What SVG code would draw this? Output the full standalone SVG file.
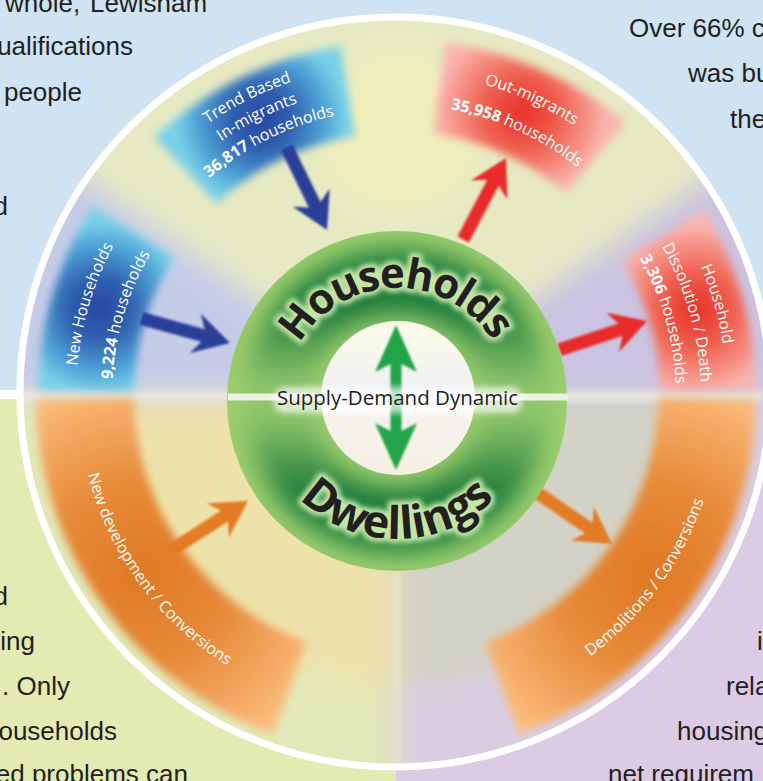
<svg xmlns="http://www.w3.org/2000/svg" width="763" height="781" viewBox="0 0 763 781">
<defs>
<style>
.bt{font-family:"Liberation Sans",Arial,sans-serif;font-size:26px;fill:#231f20}
.lb{font-family:"Open Sans","Noto Sans",sans-serif;font-size:16px;fill:#ffffff}
.b{font-weight:700}
.big{font-family:"Open Sans","Noto Sans",sans-serif;font-weight:700;fill:#231f20}
.glow{fill:#bfe2a0;stroke:#c4e5a6;stroke-width:8;stroke-linejoin:round}
.sdd{font-family:"Open Sans","Noto Sans",sans-serif;font-size:20.5px;fill:#231f20}
</style>
<filter id="fBg" filterUnits="userSpaceOnUse" x="-50" y="-50" width="863" height="881"><feGaussianBlur stdDeviation="14"/></filter>
<filter id="fPanel" x="-20%" y="-20%" width="140%" height="140%"><feGaussianBlur stdDeviation="4.5"/></filter>
<filter id="fSoft" x="-20%" y="-50%" width="140%" height="200%"><feGaussianBlur stdDeviation="3"/></filter>
<filter id="fArrow" x="-10%" y="-20%" width="120%" height="140%"><feGaussianBlur stdDeviation="1"/></filter>
<filter id="fGreen" filterUnits="userSpaceOnUse" x="200" y="200" width="400" height="400"><feGaussianBlur stdDeviation="12"/></filter>
<filter id="fGlow" x="-10%" y="-10%" width="120%" height="120%"><feGaussianBlur stdDeviation="2.5"/></filter>
<clipPath id="clipDisc"><circle cx="395" cy="392" r="373"/></clipPath>
<clipPath id="clipGreen"><circle cx="397" cy="401" r="170"/></clipPath>
<radialGradient id="gp1" gradientUnits="userSpaceOnUse" cx="261" cy="119" r="85"><stop offset="0" stop-color="#2a47a0"/><stop offset="0.35" stop-color="#2f5eae"/><stop offset="0.75" stop-color="#4fa3d6"/><stop offset="1" stop-color="#78d0e8"/></radialGradient>
<radialGradient id="gp3" gradientUnits="userSpaceOnUse" cx="99" cy="308" r="85"><stop offset="0" stop-color="#2a47a0"/><stop offset="0.35" stop-color="#2f5eae"/><stop offset="0.75" stop-color="#4fa3d6"/><stop offset="1" stop-color="#78d0e8"/></radialGradient>
<radialGradient id="gp2" gradientUnits="userSpaceOnUse" cx="522" cy="112" r="85"><stop offset="0" stop-color="#e8302a"/><stop offset="0.4" stop-color="#ee5a49"/><stop offset="0.8" stop-color="#f6958a"/><stop offset="1" stop-color="#f9b5ae"/></radialGradient>
<radialGradient id="gp4" gradientUnits="userSpaceOnUse" cx="696" cy="310" r="85"><stop offset="0" stop-color="#e8302a"/><stop offset="0.4" stop-color="#ee5a49"/><stop offset="0.8" stop-color="#f6958a"/><stop offset="1" stop-color="#f9b5ae"/></radialGradient>
<radialGradient id="gb5" gradientUnits="userSpaceOnUse" cx="141" cy="574" r="200"><stop offset="0" stop-color="#e07925"/><stop offset="0.45" stop-color="#e68a38"/><stop offset="0.85" stop-color="#f6ae6a"/><stop offset="1" stop-color="#fbbf80"/></radialGradient>
<radialGradient id="gb6" gradientUnits="userSpaceOnUse" cx="651" cy="574" r="200"><stop offset="0" stop-color="#e07925"/><stop offset="0.45" stop-color="#e68a38"/><stop offset="0.85" stop-color="#f6ae6a"/><stop offset="1" stop-color="#fbbf80"/></radialGradient>
<linearGradient id="gRing" gradientUnits="userSpaceOnUse" x1="0" y1="231" x2="0" y2="571"><stop offset="0" stop-color="#2b8a43"/><stop offset="0.22" stop-color="#1a7a3a"/><stop offset="0.46" stop-color="#8fc66a"/><stop offset="0.54" stop-color="#8fc66a"/><stop offset="0.78" stop-color="#1a7a3a"/><stop offset="1" stop-color="#2b8a43"/></linearGradient>
<linearGradient id="gInner" x1="0" y1="0" x2="0" y2="1"><stop offset="0" stop-color="#fdfce8"/><stop offset="0.45" stop-color="#eff0f3"/><stop offset="0.58" stop-color="#f5f3ee"/><stop offset="1" stop-color="#f6efe2"/></linearGradient>
<path id="arr" d="M0,-6.5 L64,-6.5 L56,-20.5 L92,0 L56,20.5 L64,6.5 L0,6.5 Z"/>
<path id="tp1a" d="M137.0,190.0 A331,331 0 0 1 387.3,65.1"/>
<path id="tp1b" d="M154.2,203.6 A309,309 0 0 1 387.9,87.1"/>
<path id="tp1c" d="M171.4,217.3 A287,287 0 0 1 388.5,109.1"/>
<path id="tp2a" d="M393.7,72.0 A324,324 0 0 1 642.7,186.0"/>
<path id="tp2b" d="M394.0,104.0 A292,292 0 0 1 618.4,206.8"/>
<path id="tp3a" d="M79.3,442.2 A320,320 0 0 1 157.1,183.1"/>
<path id="tp3b" d="M115.0,437.0 A284,284 0 0 1 184.0,207.1"/>
<path id="tp4a" d="M645.8,178.8 A331,331 0 0 1 722.9,447.8"/>
<path id="tp4b" d="M626.2,195.9 A305,305 0 0 1 697.2,443.7"/>
<path id="tp4c" d="M607.3,212.3 A280,280 0 0 1 672.6,439.8"/>
<path id="tp5" d="M83.9,457.2 A318,318 0 0 0 242.3,674.4"/>
<path id="tp6" d="M553.6,680.3 A325,325 0 0 0 715.0,458.0"/>
<path id="tpH" d="M284.0,403.0 A113,113 0 0 1 510.0,399.0"/>
<path id="tpD" d="M259,401 A138,138 0 0 0 535,401"/>
</defs>

<g id="background">
  <rect x="0" y="0" width="763" height="390" fill="#cfe3f3"/>
  <rect x="0" y="390" width="763" height="9" fill="#ffffff"/>
  <rect x="0" y="399" width="396" height="382" fill="#e3ebb3"/>
  <rect x="396" y="399" width="367" height="382" fill="#dccbe4"/>
  <text class="bt"><tspan x="5" y="12">whole,</tspan><tspan x="90" y="12">Lewisham</tspan></text>
  <text class="bt" x="133" y="55" text-anchor="end">ualifications</text>
  <text class="bt" x="82" y="101" text-anchor="end">people</text>
  <text class="bt" x="8" y="215" text-anchor="end">d</text>
  <text class="bt" x="629" y="37">Over 66% c</text>
  <text class="bt" x="688" y="82">was bu</text>
  <text class="bt" x="730" y="128">the</text>
  <text class="bt" x="8" y="605" text-anchor="end">d</text>
  <text class="bt" x="35" y="650" text-anchor="end">ing</text>
  <text class="bt" x="70" y="695" text-anchor="end">. Only</text>
  <text class="bt" x="117" y="740" text-anchor="end">ouseholds</text>
  <text class="bt" x="188" y="783" text-anchor="end">ed problems can</text>
  <text class="bt" x="757" y="650">i</text>
  <text class="bt" x="726" y="695">rela</text>
  <text class="bt" x="677" y="740">housing</text>
  <text class="bt" x="608" y="783">net requirem</text>
</g>

<g id="disc">
  <circle cx="395" cy="392" r="375" fill="#e6e9c2"/>
  <g clip-path="url(#clipDisc)">
    <g filter="url(#fBg)">
      <path d="M396,396 L816,396 A420,420 0 0 1 396,816 Z" fill="#d2d2c6"/>
      <path d="M396,396 L396,816 A420,420 0 0 1 -24,396 Z" fill="#eee2ab"/>
      <path d="M396,396 L-24,396 A420,420 0 0 1 51.9,155.1 Z" fill="#c5cce8"/>
      <path d="M396,396 L51.9,155.1 A420,420 0 0 1 740.1,155.1 Z" fill="#e6e9c2"/>
      <path d="M396,396 L740.1,155.1 A420,420 0 0 1 816,396 Z" fill="#cac3e1"/>
      <path d="M686,396 L816,396 A420,420 0 0 1 396,816 L396,686 A290,290 0 0 0 686,396 Z" fill="#d9cde1"/>
      <path d="M396,686 L396,816 A420,420 0 0 1 -24,396 L106,396 A290,290 0 0 0 396,686 Z" fill="#e2e8b7"/>
      <circle cx="400" cy="130" r="80" fill="#efeebb"/>
    </g>
    <rect x="0" y="391" width="763" height="11" fill="#e6e6de" filter="url(#fSoft)"/>
    <rect x="393" y="560" width="7" height="220" fill="#ece7d2" opacity="0.7" filter="url(#fSoft)"/>
  </g>
  <circle cx="395" cy="392" r="375" fill="none" stroke="#ffffff" stroke-width="7"/>
</g>

<g id="node-trend-in-migrants">
  <path d="M154.6,137.1 A354,354 0 0 1 340.6,46.4 L354.9,136.2 A263,263 0 0 0 216.6,203.6 Z" fill="url(#gp1)" filter="url(#fPanel)"/>
  <text class="lb"><textPath href="#tp1a" startOffset="50%" text-anchor="middle">Trend Based</textPath></text>
  <text class="lb"><textPath href="#tp1b" startOffset="50%" text-anchor="middle">In-migrants</textPath></text>
  <text class="lb"><textPath href="#tp1c" startOffset="50%" text-anchor="middle"><tspan class="b">36,817</tspan> households</textPath></text>
</g>

<g id="node-out-migrants">
  <path d="M445.7,42.5 A357,357 0 0 1 625.5,122.5 L566.3,193.0 A265,265 0 0 0 432.9,133.6 Z" fill="url(#gp2)" filter="url(#fPanel)"/>
  <text class="lb"><textPath href="#tp2a" startOffset="50%" text-anchor="middle">Out-migrants</textPath></text>
  <text class="lb"><textPath href="#tp2b" startOffset="50%" text-anchor="middle"><tspan class="b">35,958</tspan> households</textPath></text>
</g>

<g id="node-new-households">
  <path d="M38.1,389.8 A358,358 0 0 1 92.4,206.3 L173.8,257.2 A262,262 0 0 0 134.0,391.4 Z" fill="url(#gp3)" filter="url(#fPanel)"/>
  <text class="lb"><textPath href="#tp3a" startOffset="50%" text-anchor="middle">New Households</textPath></text>
  <text class="lb"><textPath href="#tp3b" startOffset="50%" text-anchor="middle"><tspan class="b">9,224</tspan> households</textPath></text>
</g>

<g id="node-dissolution">
  <path d="M704.6,210.6 A360,360 0 0 1 755.9,389.7 L660.0,391.4 A264,264 0 0 0 622.3,260.0 Z" fill="url(#gp4)" filter="url(#fPanel)"/>
  <text class="lb"><textPath href="#tp4a" startOffset="50%" text-anchor="middle">Household</textPath></text>
  <text class="lb"><textPath href="#tp4b" startOffset="50%" text-anchor="middle">Dissolution / Death</textPath></text>
  <text class="lb"><textPath href="#tp4c" startOffset="50%" text-anchor="middle"><tspan class="b">3,306</tspan> households</textPath></text>
</g>

<g id="node-new-development">
  <path d="M36.0,399.1 A360,360 0 0 0 272.9,734.3 L306.4,642.2 A262,262 0 0 1 134.0,398.3 Z" fill="url(#gb5)" filter="url(#fPanel)"/>
  <text class="lb"><textPath href="#tp5" startOffset="50%" text-anchor="middle">New development / Conversions</textPath></text>
</g>

<g id="node-demolitions">
  <path d="M756.0,399.1 A360,360 0 0 1 519.1,734.3 L485.6,642.2 A262,262 0 0 0 658.0,398.3 Z" fill="url(#gb6)" filter="url(#fPanel)"/>
  <text class="lb"><textPath href="#tp6" startOffset="50%" text-anchor="middle">Demolitions / Conversions</textPath></text>
</g>

<g id="connectors">
  <use href="#arr" fill="#2b3f98" filter="url(#fArrow)" transform="translate(286.7,147.3) rotate(64)"/>
  <use href="#arr" fill="#e9292b" filter="url(#fArrow)" transform="translate(463.2,239.5) rotate(-62.3)"/>
  <use href="#arr" fill="#2b3f98" filter="url(#fArrow)" transform="translate(141.3,318.4) rotate(15.5)"/>
  <use href="#arr" fill="#e9292b" filter="url(#fArrow)" transform="translate(559.6,349.7) rotate(-18.2)"/>
  <use href="#arr" fill="#e47c27" filter="url(#fArrow)" transform="translate(170.6,550.7) rotate(-32.7)"/>
  <use href="#arr" fill="#e47c27" filter="url(#fArrow)" transform="translate(536.1,492.0) rotate(34.4)"/>
</g>

<g id="node-core">
  <circle cx="397" cy="401" r="170" fill="#9dce6e"/>
  <g clip-path="url(#clipGreen)">
    <circle cx="397" cy="401" r="120" fill="none" stroke="url(#gRing)" stroke-width="66" filter="url(#fGreen)"/>
  </g>
  <rect x="228" y="393.5" width="340" height="7" fill="#eef0e8"/>
  <circle cx="398" cy="398" r="77" fill="url(#gInner)"/>
  <path d="M396,325 L417,372 L401.5,364 L401.5,431 L417,423 L396,470 L375,423 L390.5,431 L390.5,364 L375,372 Z" fill="#22a44a" filter="url(#fArrow)"/>
  <rect x="274" y="387" width="248" height="26" rx="10" fill="#ffffff" opacity="0.7" filter="url(#fSoft)"/>
  <text class="sdd" x="397.5" y="405" text-anchor="middle">Supply-Demand Dynamic</text>
  <g filter="url(#fGlow)">
    <text class="big glow" font-size="42" letter-spacing="-1.5"><textPath href="#tpH" startOffset="50%" text-anchor="middle">Households</textPath></text>
    <text class="big glow" font-size="45"><textPath href="#tpD" startOffset="50%" text-anchor="middle">Dwellings</textPath></text>
  </g>
  <text class="big" font-size="42" letter-spacing="-1.5"><textPath href="#tpH" startOffset="50%" text-anchor="middle">Households</textPath></text>
  <text class="big" font-size="45"><textPath href="#tpD" startOffset="50%" text-anchor="middle">Dwellings</textPath></text>
</g>
</svg>
